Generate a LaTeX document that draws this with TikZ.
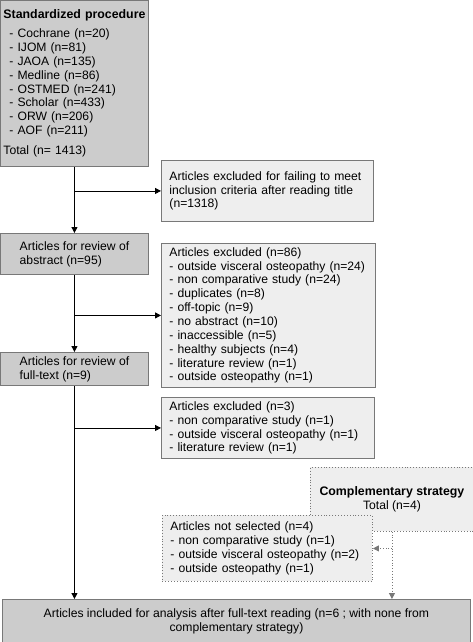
\documentclass[tikz,border=0pt]{standalone}
\usepackage{fontspec}
\setmainfont{Liberation Sans}
\usepackage{tikz}
\usetikzlibrary{arrows.meta, positioning, calc}

\definecolor{maingray}{RGB}{204,204,204}
\definecolor{lightfill}{RGB}{238,238,238}
\definecolor{edgegray}{RGB}{120,120,120}

\newcommand{\headtext}[1]{\mbox{\fontsize{12.4}{14}\selectfont\bfseries #1}}

\begin{document}
\begin{tikzpicture}[x=1bp, y=-1bp, >={Triangle[length=6bp,width=6bp]},
    font=\fontsize{12.2}{13.9}\selectfont,
    mainbox/.style={draw=edgegray, fill=maingray, line width=0.9bp, anchor=north west, inner sep=4bp},
    exclbox/.style={draw=edgegray, fill=lightfill, line width=0.9bp, anchor=north west, inner xsep=8bp, inner ysep=4bp},
    dotbox/.style={exclbox, dotted},
    flow/.style={->, line width=0.8bp}]
        \useasboundingbox (0,0) rectangle (473,642);
        % Main column
        \node[mainbox, align=left, inner xsep=3bp, minimum width=148bp, minimum height=166bp, text width=142bp] (std) at (0,0)
            {\headtext{Standardized procedure}\\[5bp]
             \hspace*{6bp}- Cochrane (n=20)\\
             \hspace*{6bp}- IJOM (n=81)\\
             \hspace*{6bp}- JAOA (n=135)\\
             \hspace*{6bp}- Medline (n=86)\\
             \hspace*{6bp}- OSTMED (n=241)\\
             \hspace*{6bp}- Scholar (n=433)\\
             \hspace*{6bp}- ORW (n=206)\\
             \hspace*{6bp}- AOF (n=211)\\[6bp]
             Total (n= 1413)};
        \node[mainbox, align=left, minimum width=148bp, minimum height=41bp] (abs) at (0,233)
            {Articles for review of\\abstract (n=95)};
        \node[mainbox, align=left, minimum width=148bp, minimum height=33bp] (full) at (0,352)
            {Articles for review of\\full-text (n=9)};
        \node[mainbox, align=center, minimum width=468bp, minimum height=43bp] (final) at (2,599)
            {Articles included for analysis after full-text reading (n=6 ; with none from\\complementary strategy)};
        % Exclusions
        \node[exclbox, align=left, minimum width=212bp, minimum height=61bp, text width=196bp] (ex1) at (161,160)
            {Articles excluded for failing to meet\\inclusion criteria after reading title\\(n=1318)};
        \node[exclbox, align=left, minimum width=214bp, minimum height=143bp, text width=198bp] (ex2) at (161,243)
            {Articles excluded (n=86)\\
             - outside visceral osteopathy (n=24)\\
             - non comparative study (n=24)\\
             - duplicates (n=8)\\
             - off-topic (n=9)\\
             - no abstract (n=10)\\
             - inaccessible (n=5)\\
             - healthy subjects (n=4)\\
             - literature review (n=1)\\
             - outside osteopathy (n=1)};
        \node[exclbox, align=left, minimum width=213bp, minimum height=61bp, text width=197bp] (ex3) at (161,397)
            {Articles excluded (n=3)\\
             - non comparative study (n=1)\\
             - outside visceral osteopathy (n=1)\\
             - literature review (n=1)};
        % Complementary strategy
        \node[dotbox, align=center, inner xsep=4bp, minimum width=163bp, minimum height=64bp] (comp) at (310,467)
            {\headtext{Complementary strategy}\\Total (n=4)};
        \node[dotbox, align=left, minimum width=210bp, minimum height=66bp, text width=194bp] (notsel) at (162,515)
            {Articles not selected (n=4)\\
             - non comparative study (n=1)\\
             - outside visceral osteopathy (n=2)\\
             - outside osteopathy (n=1)};
        % Connectors
        \draw[flow] (std) -- (abs);
        \draw[flow] (std.south |- ex1.west) -- (ex1.west);
        \draw[flow] (abs) -- (full);
        \draw[flow] (abs.south |- ex2.west) -- (ex2.west);
        \draw[flow] (full.south) -- (full.south |- final.north);
        \draw[flow] (full.south |- ex3.west) -- (ex3.west);
        \draw[flow, dotted, draw=edgegray] (comp.south) -- (comp.south |- final.north);
        \draw[flow, dotted, draw=edgegray] (comp.south |- notsel.east) -- (notsel.east);
    \end{tikzpicture}
\end{document}
